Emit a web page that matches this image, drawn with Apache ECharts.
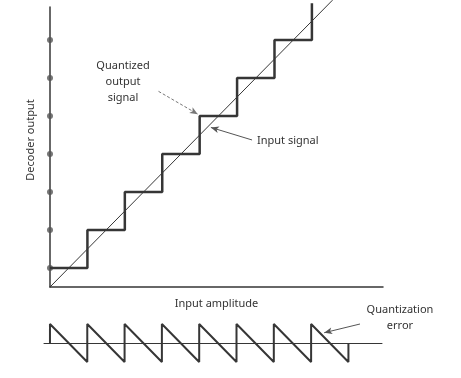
<!DOCTYPE html>
<html>
<head>
<meta charset="utf-8">
<script src="https://cdn.jsdelivr.net/npm/echarts@6/dist/echarts.min.js"></script>
<title>quantization</title>
</head>
<body style="margin:0;background:#fff">
<div id="main" style="width:461px;height:378px;"></div>
<script type="text/javascript">
    // decoder output levels (dots on the vertical axis)
    var dotLevels = [0.5, 1.5, 2.5, 3.5, 4.5, 5.5, 6.5];
    // quantized output staircase
    var stairX = [0, 1, 1, 2, 2, 3, 3, 4, 4, 5, 5, 6, 6, 7, 7];
    var stairY = [0.5, 0.5, 1.5, 1.5, 2.5, 2.5, 3.5, 3.5, 4.5, 4.5, 5.5, 5.5, 6.5, 6.5, 7.47];
    // input signal (straight line)
    var inputX = [0, 7.55];
    var inputY = [0, 7.55];
    // quantization error sawtooth
    var errX = [0, 0, 1, 1, 2, 2, 3, 3, 4, 4, 5, 5, 6, 6, 7, 7, 8, 8];
    var errY = [0, 0.5, -0.5, 0.5, -0.5, 0.5, -0.5, 0.5, -0.5, 0.5, -0.5, 0.5, -0.5, 0.5, -0.5, 0.5, -0.5, 0];

    function zip(xs, ys) {
        var out = [];
        for (var i = 0; i < xs.length; i++) out.push([xs[i], ys[i]]);
        return out;
    }

    var ink = '#363636';
    var font = 'Noto Sans';
    var myChart = echarts.init(document.getElementById('main'));

    var option = {
        animation: false,
        backgroundColor: '#fff',
        grid: [
            {left: 50, top: 7, width: 333, height: 280},
            {left: 44, top: 324, width: 338, height: 38}
        ],
        xAxis: [
            {
                gridIndex: 0, type: 'value', min: 0, max: 8.9,
                name: 'Input amplitude', nameLocation: 'middle', nameGap: 11,
                nameTextStyle: {fontFamily: font, fontSize: 11, color: '#333'},
                axisLine: {lineStyle: {color: ink, width: 1.5}},
                axisTick: {show: false}, axisLabel: {show: false}, splitLine: {show: false}
            },
            {
                gridIndex: 1, type: 'value', min: -0.16, max: 8.9,
                axisLine: {onZero: true, lineStyle: {color: ink, width: 1}},
                axisTick: {show: false}, axisLabel: {show: false}, splitLine: {show: false}
            }
        ],
        yAxis: [
            {
                gridIndex: 0, type: 'value', min: 0, max: 7.37,
                name: 'Decoder output', nameLocation: 'middle', nameGap: 14, nameRotate: 90,
                nameTextStyle: {fontFamily: font, fontSize: 11, color: '#333', padding: [0, 0, 0, 14]},
                axisLine: {lineStyle: {color: ink, width: 1.5}},
                axisTick: {show: false}, axisLabel: {show: false}, splitLine: {show: false}
            },
            {
                gridIndex: 1, type: 'value', min: -0.5, max: 0.5, show: false
            }
        ],
        series: [
            {
                type: 'line', xAxisIndex: 0, yAxisIndex: 0, data: zip(inputX, inputY),
                showSymbol: false, clip: false,
                lineStyle: {color: ink, width: 1},
                markLine: {
                    silent: true, symbol: ['none', 'arrow'], symbolSize: [5, 8],
                    label: {show: false},
                    lineStyle: {color: '#555', width: 1, type: 'solid'},
                    data: [
                        [{coord: [5.4, 3.87]}, {coord: [4.3, 4.2]}],
                        [{coord: [2.9, 5.15], lineStyle: {type: [3, 2], color: '#777'}}, {coord: [3.95, 4.55]}]
                    ]
                }
            },
            {
                type: 'line', xAxisIndex: 0, yAxisIndex: 0, data: zip(stairX, stairY),
                showSymbol: false, clip: false,
                lineStyle: {color: ink, width: 2.5}
            },
            {
                type: 'scatter', xAxisIndex: 0, yAxisIndex: 0,
                data: dotLevels.map(function (v) { return [0, v]; }),
                symbolSize: 6, itemStyle: {color: '#555'}
            },
            {
                type: 'line', xAxisIndex: 1, yAxisIndex: 1, data: zip(errX, errY),
                showSymbol: false, clip: false,
                lineStyle: {color: ink, width: 2},
                markLine: {
                    silent: true, symbol: ['none', 'arrow'], symbolSize: [5, 8],
                    label: {show: false},
                    lineStyle: {color: '#555', width: 1, type: 'solid'},
                    data: [
                        [{coord: [8.31, 0.5]}, {coord: [7.35, 0.27]}]
                    ]
                }
            }
        ],
        graphic: [
            {
                type: 'text', x: 123, y: 58,
                style: {
                    text: 'Quantized\noutput\nsignal', fill: '#333', font: '11px "Noto Sans"',
                    align: 'center', verticalAlign: 'top', lineHeight: 16
                }
            },
            {
                type: 'text', x: 257, y: 135,
                style: {text: 'Input signal', fill: '#333', font: '11px "Noto Sans"', verticalAlign: 'top'}
            },
            {
                type: 'text', x: 400, y: 302,
                style: {
                    text: 'Quantization\nerror', fill: '#333', font: '11px "Noto Sans"',
                    align: 'center', verticalAlign: 'top', lineHeight: 16
                }
            }
        ]
    };
    myChart.setOption(option);
</script>
</body>
</html>
